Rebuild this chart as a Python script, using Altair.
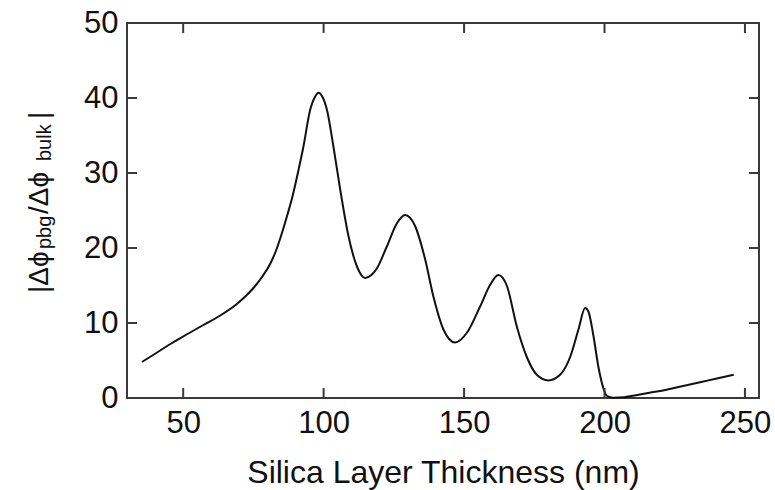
import altair as alt
import pandas as pd

# Curve
thickness = [35.3, 40, 45, 51.4, 57, 63.2, 69, 72, 75.1, 78, 81, 83, 85, 87, 89, 91, 92.8, 95.2, 97,
             98.2, 99.5, 101.2, 103.5, 105.9, 108.9, 111.9, 114.8, 117, 119.0, 122.5, 126.1, 129.0,
             132.6, 136.2, 139.1, 142.7, 146.8, 151.0, 155.7, 159.3, 162.2, 165.2, 168.8, 172.3,
             175.9, 180.0, 184.2, 187.8, 190.7, 193.1, 194.3, 196.1, 197.8, 199.6, 200.8, 203, 207,
             210, 216, 222, 228, 234, 240, 246]
ratio = [4.8, 5.9, 7.1, 8.5, 9.7, 11.0, 12.5, 13.5, 14.7, 16.1, 17.9, 19.6, 21.8, 24.3, 27.0, 30.3,
         33.5, 38.4, 40.2, 40.7, 40.2, 38.4, 33.5, 27.8, 21.5, 17.5, 16.0, 16.4, 17.3, 20.2, 23.3,
         24.4, 22.9, 18.4, 13.5, 9.1, 7.4, 8.7, 12.2, 15.1, 16.4, 15.0, 9.5, 5.5, 3.1, 2.35, 3.1,
         5.5, 9.1, 12.0, 11.5, 8.2, 4.2, 1.3, 0.3, 0.05, 0.1, 0.3, 0.7, 1.1, 1.6, 2.1, 2.6, 3.1]

x_ticks = [50, 100, 150, 200, 250]
y_ticks = [10, 20, 30, 40]

W, H = 632, 375
FONT = "Liberation Sans"
INK = "#111111"
FRAME = "#3a3a3a"
TL = 10

df = pd.DataFrame({"t": thickness, "r": ratio})
xs = alt.Scale(domain=[30, 255], nice=False, zero=False)
ys = alt.Scale(domain=[0, 50], nice=False)

line = alt.Chart(df).mark_line(color=INK, strokeWidth=2, interpolate="monotone").encode(
    x=alt.X("t:Q", scale=xs, axis=alt.Axis(
        values=x_ticks, title="Silica Layer Thickness (nm)", domain=False, ticks=False,
        tickSize=0, grid=False, labelFont=FONT, labelFontSize=31, labelColor=INK,
        labelPadding=10, titleFont=FONT, titleFontSize=32, titleFontWeight="normal",
        titleColor=INK, titleBaseline="alphabetic", titleY=84)),
    y=alt.Y("r:Q", scale=ys, axis=alt.Axis(
        values=[0, 10, 20, 30, 40, 50], title="", domain=False, ticks=False, tickSize=0,
        grid=False, labelFont=FONT, labelFontSize=31, labelColor=INK, labelPadding=9)),
)

xt = pd.DataFrame({"v": x_ticks})
yt = pd.DataFrame({"v": y_ticks})
tick_style = dict(color=FRAME, strokeWidth=2)
bottom_ticks = alt.Chart(xt).mark_rule(**tick_style).encode(
    x=alt.X("v:Q", scale=xs), y=alt.value(H), y2=alt.value(H - TL))
top_ticks = alt.Chart(xt).mark_rule(**tick_style).encode(
    x=alt.X("v:Q", scale=xs), y=alt.value(0), y2=alt.value(TL))
left_ticks = alt.Chart(yt).mark_rule(**tick_style).encode(
    y=alt.Y("v:Q", scale=ys), x=alt.value(0), x2=alt.value(TL))
right_ticks = alt.Chart(yt).mark_rule(**tick_style).encode(
    y=alt.Y("v:Q", scale=ys), x=alt.value(W), x2=alt.value(W - TL))

one = pd.DataFrame({"a": [0]})

def piece(txt, size, px, py):
    return alt.Chart(one).mark_text(
        text=txt, angle=270, align="left", baseline="alphabetic",
        font=FONT, fontSize=size, color=INK
    ).encode(x=alt.value(px), y=alt.value(py))

title_parts = [
    piece("|Δϕ", 28, -79, 270),
    piece("pbg", 20, -76, 226),
    piece("/Δϕ", 28, -79, 191),
    piece("bulk", 20, -76, 138),
    piece("|", 28, -79, 96),
]

chart = alt.layer(line, bottom_ticks, top_ticks, left_ticks, right_ticks, *title_parts).properties(
    width=W, height=H,
    autosize=alt.AutoSizeParams(type="none"),
    padding={"left": 127, "top": 23, "right": 16, "bottom": 92},
    background="white",
).configure_view(stroke=FRAME, strokeWidth=2)

chart.save("out.html", embed_options={"renderer": "svg", "actions": False})
